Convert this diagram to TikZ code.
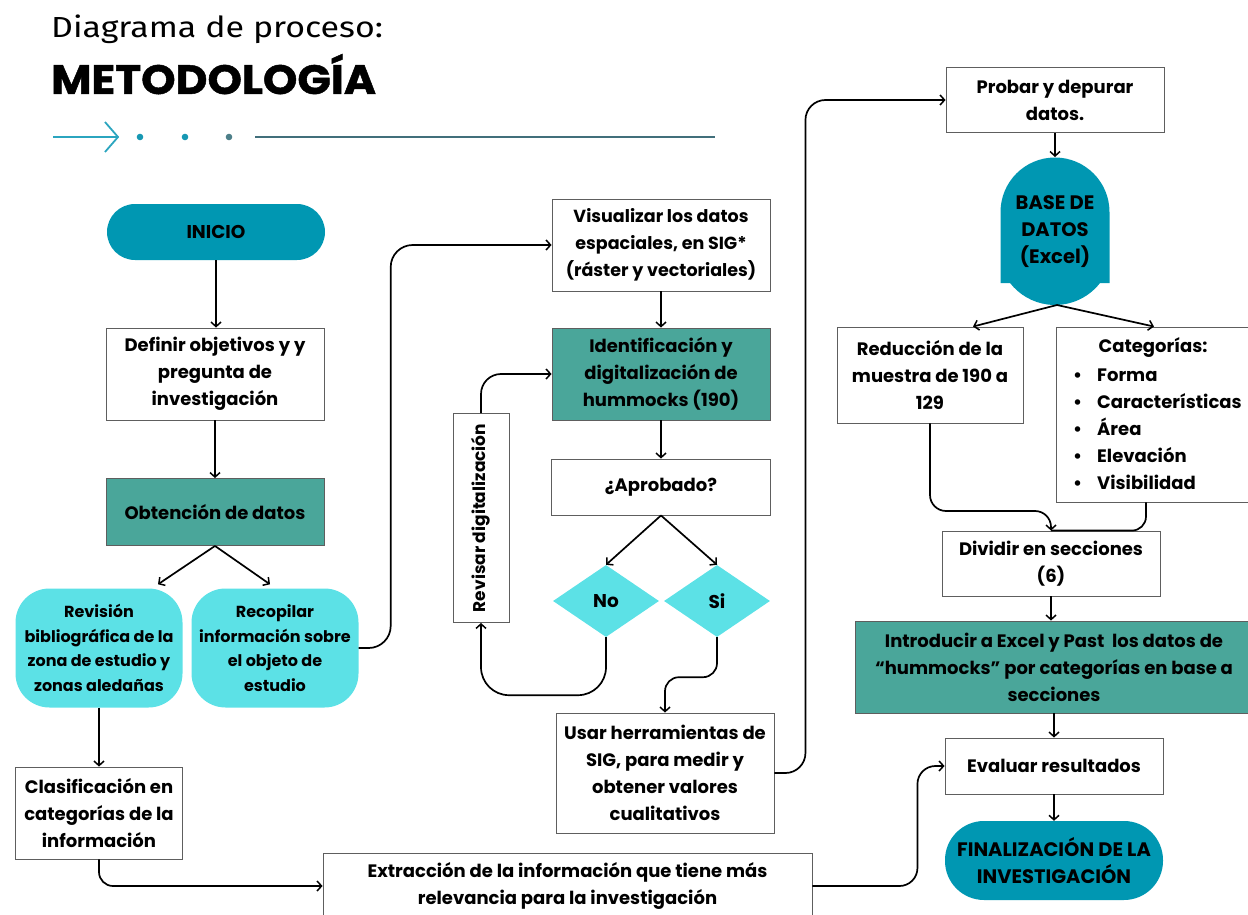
\documentclass[tikz,border=0pt]{standalone}
\usepackage{fontspec}
\setmainfont{Poppins}
\newfontfamily\headfont{Fira Sans}[FakeStretch=1.17]
\newfontfamily\bannerfont{Poppins}[FakeStretch=1.07, FakeBold=1.2]
\usetikzlibrary{arrows.meta,shapes.geometric,calc}

\definecolor{deepteal}{HTML}{0097B2}
\definecolor{sage}{HTML}{4AA69A}
\definecolor{aqua}{HTML}{5CE1E6}
\definecolor{boxline}{HTML}{5E5E5E}
\definecolor{headcyan}{HTML}{2BA5BF}
\definecolor{headdot}{HTML}{1798B3}
\definecolor{headgrey}{HTML}{4D7F89}
\definecolor{headrule}{HTML}{416F7B}

% text sizes used in the chart
\newcommand\sizemain{\fontsize{18}{27}\selectfont\bfseries}
\newcommand\sizesmall{\fontsize{16}{24.6}\selectfont\bfseries}
\newcommand\sizecaps{\fontsize{19.5}{27}\selectfont\bfseries}

\tikzset{
  lbl/.style={font=\sizemain, align=center, text=black},
  box/.style={lbl, draw=boxline, line width=0.9pt, fill=white, inner sep=0pt},
  greenbox/.style={box, fill=sage},
  pill/.style={lbl, font=\sizecaps, fill=deepteal, inner sep=0pt},
  soft/.style={lbl, font=\sizesmall, fill=aqua, inner sep=0pt, rounded corners=34pt},
  choice/.style={lbl, font=\fontsize{18.5}{27}\selectfont\bfseries, diamond, fill=aqua, inner sep=0pt, aspect=1.47},
  flow/.style={draw=black, line width=1.7pt, -{Straight Barb[length=4.5pt,width=10pt,line width=1.5pt]}},
  link/.style={draw=black, line width=1.7pt}
}

\begin{document}
\begin{tikzpicture}[x=1pt, y=-1pt]
\useasboundingbox (0,0) rectangle (1248,915);

% heading
\node[anchor=base west, inner sep=0pt, font=\headfont\fontsize{29}{29}\selectfont] (title) at (51,38) {Diagrama de proceso:};
\node[anchor=base west, inner sep=0pt, font=\bannerfont\fontsize{41}{41}\selectfont\bfseries] (subtitle) at (51,94) {METODOLOGÍA};
\draw[headcyan, line width=1.8pt] (53,137) -- (118,137);
\draw[headcyan, line width=1.8pt] (105,122) -- (118,137) -- (105,152);
\fill[headdot] (140,137) circle (3.3);
\fill[headdot] (185,137) circle (3.3);
\fill[headgrey] (229,137) circle (3.3);
\draw[headrule, line width=1.8pt] (255,137) -- (715,137);

% left column
\node[pill, font=\fontsize{18.5}{27}\selectfont\bfseries, minimum width=218pt, minimum height=56pt, rounded corners=28pt] (inicio) at (216,232) {INICIO};
\node[box, minimum width=218pt, minimum height=92pt] (definir) at (215,374) {Definir objetivos y y\\pregunta de\\investigación};
\node[greenbox, minimum width=218pt, minimum height=67pt] (obt) at (215,512) {Obtención de datos};
\node[soft, minimum width=167pt, minimum height=119pt] (revis) at (99,648) {Revisión\\bibliográfica de la\\zona de estudio y\\zonas aledañas};
\node[soft, minimum width=167pt, minimum height=119pt] (recop) at (275,648) {Recopilar\\información sobre\\el objeto de\\estudio};
\node[box, minimum width=167pt, minimum height=92pt] (clas) at (99,813) {Clasificación en\\categorías de la\\información};
\node[box, minimum width=489pt, minimum height=66pt] (extr) at (567.5,886) {Extracción de la información que tiene más\\relevancia para la investigación};

% middle column
\node[box, font=\fontsize{17.5}{27}\selectfont\bfseries, minimum width=218pt, minimum height=92pt] (visual) at (661,245) {Visualizar los datos\\espaciales, en SIG*\\(ráster y vectoriales)};
\node[greenbox, minimum width=218pt, minimum height=92pt] (ident) at (661,374) {Identificación y\\digitalización de\\hummocks (190)};
\node[box, minimum width=219pt, minimum height=56pt] (apro) at (661,487) {¿Aprobado?};
\node[choice, minimum width=106pt, minimum height=72pt] (no) at (606,601) {No};
\node[choice, minimum width=106pt, minimum height=72pt] (si) at (717,601) {Si};
\node[box, minimum width=56pt, minimum height=209pt] (revisar) at (481,518) {};
\node[lbl, font=\fontsize{17}{27}\selectfont\bfseries, rotate=90] (revisartxt) at (revisar.center) {Revisar digitalización};
\node[box, minimum width=218pt, minimum height=120pt] (usar) at (665,773) {Usar herramientas de\\SIG, para medir y\\obtener valores\\cualitativos};

% right column
\node[box, minimum width=218pt, minimum height=65pt] (probar) at (1055,100) {Probar y depurar\\datos.};
\fill[deepteal] (1000.5,212) arc[start angle=180, end angle=0, radius=54.5pt]
  -- (1109.5,283) -- (1100,283)
  arc[start angle=-37.9, end angle=-142.1, radius=57pt]
  -- (1000.5,283) -- cycle;
\node[lbl, font=\sizecaps] (base) at (1055,232) {BASE DE\\DATOS\\(Excel)};
\coordinate (basetop) at (1055,157);
\coordinate (basebot) at (1057,305);
\node[box, minimum width=186pt, minimum height=96pt] (reduc) at (930,375) {Reducción de la\\muestra de 190 a\\129};
\node[box, minimum width=196pt, minimum height=175pt] (cat) at (1154,414.5) {};
\node[lbl] (cathead) at (1153,348) {Categorías:};
\node[lbl, anchor=base west, align=left, inner sep=0pt] (catlist) at (1073,381)
  {\begin{tabular}[t]{@{}l@{\hspace{15pt}}l@{}}
   \textbullet & Forma\\
   \textbullet & Características\\
   \textbullet & Área\\
   \textbullet & Elevación\\
   \textbullet & Visibilidad
   \end{tabular}};
\node[box, minimum width=218pt, minimum height=65pt] (divid) at (1051,563.5) {Dividir en secciones\\(6)};
\node[greenbox, minimum width=398pt, minimum height=92pt] (intro) at (1054,667) {Introducir a Excel y Past\ \ los datos de\\“hummocks” por categorías en base a\\secciones};
\node[box, minimum width=218pt, minimum height=56pt] (eval) at (1054,766) {Evaluar resultados};
\node[pill, minimum width=218pt, minimum height=79pt, rounded corners=39pt] (final) at (1054,860.5) {FINALIZACIÓN DE LA\\INVESTIGACIÓN};
\coordinate (mergeL) at (1051,511);

% connectors, left column
\draw[flow] (inicio.south) -- (inicio.south |- definir.north);
\draw[flow] (definir.south) -- (definir.south |- obt.north);
\draw[flow] (obt.south) -- ([xshift=59pt, yshift=4pt]revis.north);
\draw[flow] (obt.south) -- ([xshift=-5pt, yshift=4pt]recop.north);
\draw[flow] (revis.south) -- (revis.south |- clas.north);
\draw[flow, rounded corners=14pt] (clas.south) |- (extr.west);
\draw[flow, rounded corners=22pt] (recop.east) -- ++(32,0) |- (visual.west);

% connectors, middle column
\draw[flow] (visual.south) -- (visual.south |- ident.north);
\draw[flow] (ident.south) -- (ident.south |- apro.north);
\draw[flow] (apro.south) -- (no.north);
\draw[flow] (apro.south) -- (si.north);
\draw[flow, rounded corners=28pt] (no.south) -- ++(0,58) -| (revisar.south);
\draw[flow, rounded corners=20pt] (revisar.north) |- (ident.west);
\draw[flow, rounded corners=14pt] (si.south) -- ++(0,40) -| (usar.north);
\draw[flow, rounded corners=20pt] (usar.east) -- ++(31,0) |- (probar.west);

% connectors, right column
\draw[flow] (probar.south) -- (basetop);
\draw[flow] (basebot) -- ([xshift=43pt]reduc.north);
\draw[flow] (basebot) -- (cat.north);
\draw[link, rounded corners=14pt] ([xshift=-8pt]cat.south) |- (divid.north);
\draw[flow, rounded corners=16pt] (reduc.south) |- (mergeL) -- (divid.north);
\draw[flow] (divid.south) -- (divid.south |- intro.north);
\draw[flow] (intro.south) -- (intro.south |- eval.north);
\draw[flow] (eval.south) -- (eval.south |- final.north);
\draw[flow, rounded corners=18pt] (extr.east) -- ++(105,0) |- (eval.west);
\end{tikzpicture}
\end{document}
